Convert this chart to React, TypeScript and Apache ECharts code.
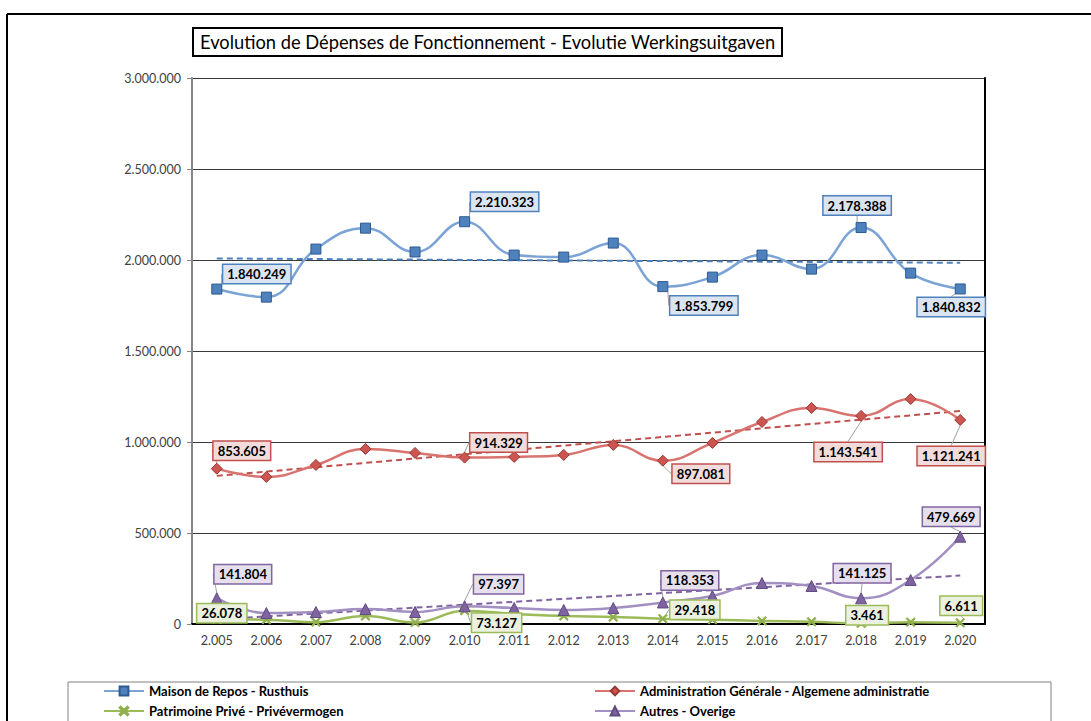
import { useEffect, useRef } from 'react';
import * as echarts from 'echarts';

const years = [2005, 2006, 2007, 2008, 2009, 2010, 2011, 2012, 2013, 2014, 2015, 2016, 2017, 2018, 2019, 2020];
const maison = [1840249, 1796000, 2060000, 2175000, 2044000, 2210323, 2027000, 2016000, 2093000, 1853799, 1906000, 2027000, 1950000, 2178388, 1928000, 1840832];
const admin = [853605, 808000, 874000, 962000, 940000, 914329, 918000, 929000, 984000, 897081, 995000, 1110000, 1187000, 1143541, 1236000, 1121241];
const patrimoine = [26078, 24000, 10000, 44000, 8000, 73127, 55000, 44000, 38000, 29418, 24000, 17000, 12000, 3461, 10000, 6611];
const autres = [141804, 60000, 66000, 82000, 66000, 97397, 88000, 77000, 88000, 118353, 154000, 225000, 209000, 141125, 242000, 479669];
const labeledIdx = [0, 5, 9, 13, 15];

const names = {
  maison: 'Maison de Repos - Rusthuis',
  admin: 'Administration Générale - Algemene administratie',
  patrimoine: 'Patrimoine Privé - Privévermogen',
  autres: 'Autres - Overige',
};
const titleText = 'Evolution de Dépenses de Fonctionnement - Evolutie Werkingsuitgaven';

// label callout offsets (layout only)
const offMaison: Record<number, [number, number]> = { 0: [40, -15], 5: [40, -20], 9: [41, 19], 13: [-4, -22], 15: [-9, 18] };
const offAdmin: Record<number, [number, number]> = { 0: [25, -18], 5: [34, -15], 9: [38, 13], 13: [-13, 36], 15: [-9, 36] };
const offPatr: Record<number, [number, number]> = { 0: [5, -6], 5: [32, 12], 9: [32, -9], 13: [6, -8], 15: [1, -17] };
const offAutres: Record<number, [number, number]> = { 0: [26, -24], 5: [34, -22], 9: [27, -22], 13: [1, -25], 15: [-9, -20] };

const FONT = 'Lato, "Noto Sans", sans-serif';
const fmt = (n: number) => String(Math.round(n)).replace(/\B(?=(\d{3})+(?!\d))/g, '.');

function linearTrend(vals: number[]): number[] {
  const n = vals.length;
  const xs = vals.map((_, i) => i);
  const mx = xs.reduce((a, b) => a + b, 0) / n;
  const my = vals.reduce((a, b) => a + b, 0) / n;
  let num = 0, den = 0;
  for (let i = 0; i < n; i++) { num += (xs[i] - mx) * (vals[i] - my); den += (xs[i] - mx) ** 2; }
  const b = num / den; const a = my - b * mx;
  return xs.map((x) => a + b * x);
}

const XPATH = 'path://M0,1.2 L1.2,0 L5,3.8 L8.8,0 L10,1.2 L6.2,5 L10,8.8 L8.8,10 L5,6.2 L1.2,10 L0,8.8 L3.8,5 Z';

function makeSeries(name: string, vals: number[], lineColor: string, symbol: string, symFill: string, symBorder: string,
  labelBg: string, labelBorder: string, offs: Record<number, [number, number]>, symbolSize: number) {
  return {
    name,
    type: 'line',
    smooth: 0.45,
    symbol,
    symbolSize,
    lineStyle: { color: lineColor, width: 2.5 },
    itemStyle: { color: symFill, borderColor: symBorder, borderWidth: 1 },
    labelLine: { show: true, lineStyle: { color: '#a0a0a0', width: 1 } },
    labelLayout: (p: any) => {
      const o = offs[p.dataIndex];
      return o ? { dx: o[0], dy: o[1] } : {};
    },
    data: vals.map((v, i) => labeledIdx.includes(i)
      ? {
        value: v,
        label: {
          show: true, position: 'inside', formatter: (pp: any) => fmt(pp.value),
          backgroundColor: labelBg, borderColor: labelBorder, borderWidth: 1.5,
          padding: [3, 4, 2, 4], color: '#000', fontWeight: 'bold', fontSize: 13, fontFamily: FONT,
        },
      }
      : v),
    z: 3,
  };
}

function trendSeries(id: string, vals: number[], color: string) {
  return {
    name: id, type: 'line', symbol: 'none', silent: true,
    lineStyle: { color, width: 2, type: [6, 4] },
    data: linearTrend(vals), z: 2,
  };
}

const legendText = { fontFamily: FONT, fontSize: 13, fontWeight: 'bold', color: '#000', lineHeight: 16 };

export default function App() {
  const ref = useRef<HTMLDivElement>(null);
  useEffect(() => {
    if (!ref.current) return;
    const chart = echarts.init(ref.current, undefined, { renderer: 'svg' });
    chart.setOption({
      animation: false,
      backgroundColor: '#fff',
      textStyle: { fontFamily: FONT },
      title: {
        text: titleText, left: 193, top: 28,
        borderColor: '#000', borderWidth: 2, padding: [5, 7, 5, 7],
        textStyle: { fontFamily: FONT, fontSize: 18.3, fontWeight: 'normal', color: '#000' },
      },
      grid: { left: 192, right: 106, top: 78, bottom: 97 },
      xAxis: [
        {
          type: 'category', data: years, boundaryGap: true,
          axisLine: { lineStyle: { color: '#868686', width: 2 } },
          axisTick: { show: false },
          axisLabel: { formatter: (v: string) => fmt(Number(v)), color: '#404040', fontSize: 12.5, margin: 10, fontFamily: FONT },
        },
        {
          type: 'category', data: years, position: 'top',
          axisLine: { lineStyle: { color: '#000', width: 2 } },
          axisTick: { show: false }, axisLabel: { show: false },
        },
      ],
      yAxis: [
        {
          type: 'value', min: 0, max: 3000000, interval: 500000,
          axisLine: { show: true, lineStyle: { color: '#868686', width: 2 } },
          axisTick: { show: true, length: 5, lineStyle: { color: '#868686' } },
          axisLabel: { formatter: (v: number) => fmt(v), color: '#404040', fontSize: 12.5, margin: 11, fontFamily: FONT },
          splitLine: { lineStyle: { color: '#3a3a3a', width: 1 } },
        },
        {
          type: 'value', min: 0, max: 3000000, interval: 500000, position: 'right',
          axisLine: { show: true, lineStyle: { color: '#000', width: 2 } },
          axisTick: { show: false }, axisLabel: { show: false }, splitLine: { show: false },
        },
      ],
      legend: [
        {
          orient: 'vertical', left: 103, top: 683, height: 60, padding: 0, itemGap: 4, itemWidth: 40, itemHeight: 11,
          data: [names.maison, names.patrimoine],
          textStyle: legendText,
        },
        {
          orient: 'vertical', left: 594, top: 683, height: 60, padding: 0, itemGap: 4, itemWidth: 40, itemHeight: 11,
          data: [names.admin, names.autres],
          textStyle: legendText,
        },
      ],
      graphic: [
        { type: 'line', shape: { x1: 7, y1: 14, x2: 1091, y2: 14 }, style: { stroke: '#000', lineWidth: 2 } },
        { type: 'line', shape: { x1: 7, y1: 14, x2: 7, y2: 721 }, style: { stroke: '#000', lineWidth: 2 } },
        { type: 'rect', shape: { x: 68, y: 682, width: 983, height: 60 }, style: { fill: 'none', stroke: '#808080', lineWidth: 1 } },
      ],
      series: [
        trendSeries('trend-maison', maison, '#4f81bd'),
        trendSeries('trend-admin', admin, '#c0504d'),
        trendSeries('trend-autres', autres, '#8064a2'),
        makeSeries(names.maison, maison, '#7ba3d5', 'rect', '#4f81bd', '#2c5a91', '#dbe5f1', '#4f81bd', offMaison, 10),
        makeSeries(names.admin, admin, '#d9736f', 'diamond', '#cd5551', '#9c3633', '#f2dcdb', '#c0504d', offAdmin, 11),
        makeSeries(names.patrimoine, patrimoine, '#9bbb59', XPATH, '#8fb04c', '#8fb04c', '#ebf1de', '#9bbb59', offPatr, 9),
        makeSeries(names.autres, autres, '#a290c2', 'triangle', '#8064a2', '#5f4a80', '#e5e0ec', '#8064a2', offAutres, 11),
      ],
    });
    return () => chart.dispose();
  }, []);
  return <div ref={ref} style={{ position: 'fixed', left: 0, top: 0, width: 1091, height: 721 }} />;
}
